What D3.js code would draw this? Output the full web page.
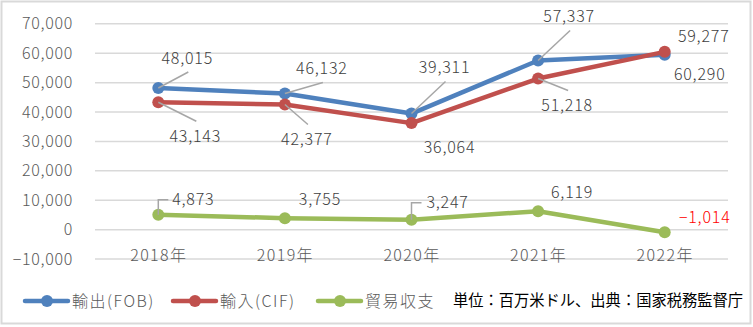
<!DOCTYPE html>
<html><head><meta charset="utf-8">
<script src="https://cdn.jsdelivr.net/npm/d3@7"></script>
<style>
html,body{margin:0;padding:0;background:#fff;}
svg text{font-family:"Noto Sans CJK JP","Noto Sans",sans-serif;font-weight:300;}
</style></head>
<body><svg id="c" width="753" height="327"></svg>
<script>
// ---- data ----
const categories = ["2018年","2019年","2020年","2021年","2022年"];
const exportsFOB = [48015, 46132, 39311, 57337, 59277];
const importsCIF = [43143, 42377, 36064, 51218, 60290];
const tradeBalance = [4873, 3755, 3247, 6119, -1014];
const yTicks = [-10000, 0, 10000, 20000, 30000, 40000, 50000, 60000, 70000];
const seriesNames = ["輸出(FOB)", "輸入(CIF)", "貿易収支"];
const noteText = "単位：百万米ドル、出典：国家税務監督庁";

// ---- layout / style config ----
const colors = ["#4F81BD", "#C0504D", "#9BBB59"];
const labelCfg = [
  {dx:[29,37,33,31,39], dy:[-30,-25,-46,-44,-18], leader:["line","line","line","line",null]},
  {dx:[37,22,38,29,35], dy:[34,35,24,27,23], leader:["line","line",null,"line",null]},
  {dx:[35,35,36,34,40], dy:[-15,-19,-17,-19,-15], leader:["elbow",null,"elbow",null,null]}
];

const svg = d3.select("#c");
svg.append("rect").attr("x",1.5).attr("y",1.5).attr("width",749).attr("height",322)
  .attr("fill","#fff").attr("stroke","#D9D9D9").attr("stroke-width",2);

const x = d3.scalePoint().domain(categories).range([95, 728]).padding(0.5);
const y = d3.scaleLinear().domain([-10000, 70000]).range([258.6, 23.3]);

const yAxis = d3.axisLeft(y).tickValues(yTicks).tickFormat(d3.format(",")).tickSize(-(728-95)).tickPadding(22);
const gy = svg.append("g").attr("transform","translate(95,0)").call(yAxis);
gy.select(".domain").remove();
gy.selectAll(".tick line").attr("stroke","#D9D9D9").attr("stroke-width",1.5);
gy.selectAll(".tick text").attr("fill","#595959").attr("font-size",16).attr("letter-spacing",0.7).attr("dy","0.35em");

const xAxis = d3.axisBottom(x).tickSize(0).tickPadding(0);
const gx = svg.append("g").attr("transform","translate(0,"+ (y(0)+26) +")").call(xAxis);
gx.select(".domain").remove();
gx.selectAll(".tick text").attr("fill","#595959").attr("font-size",16).attr("letter-spacing",1.4).attr("dy","0.35em");

const allSeries = [exportsFOB, importsCIF, tradeBalance];
const line = d3.line().x((d,i)=>x(categories[i])).y(d=>y(d));

allSeries.forEach((vals, si) => {
  const g = svg.append("g");
  g.append("path").datum(vals).attr("d", line).attr("fill","none")
    .attr("stroke", colors[si]).attr("stroke-width",4.5).attr("stroke-linejoin","round").attr("stroke-linecap","round");
  g.selectAll("circle").data(vals).join("circle")
    .attr("cx",(d,i)=>x(categories[i])).attr("cy",d=>y(d)).attr("r",6).attr("fill",colors[si]);
});

allSeries.forEach((vals, si) => {
  const cfg = labelCfg[si];
  vals.forEach((v, i) => {
    const px = x(categories[i]), py = y(v);
    const tx = px + cfg.dx[i], ty = py + cfg.dy[i];
    svg.append("text").attr("x",tx).attr("y",ty).attr("text-anchor","middle")
      .attr("dy","0.35em").attr("font-size",16).attr("letter-spacing",0.8)
      .attr("fill", v < 0 ? "#FF0000" : "#404040").text(d3.format(",")(v));
    if (cfg.leader[i] === "line") {
      const ey = cfg.dy[i] < 0 ? ty + 14 : ty - 15;
      const lx = tx + (si < 2 ? 1 : 0);
      svg.append("line").attr("x1",px).attr("y1",py).attr("x2",lx).attr("y2",ey)
        .attr("stroke","#A6A6A6").attr("stroke-width",1.5);
    } else if (cfg.leader[i] === "elbow") {
      svg.append("path").attr("d", `M${px},${py} V${ty} H${px+10}`)
        .attr("fill","none").attr("stroke","#A6A6A6").attr("stroke-width",1.5);
    }
  });
});

const legendX = [25, 173, 318];
const legendY = 301;
seriesNames.forEach((name, si) => {
  const lx = legendX[si];
  svg.append("line").attr("x1",lx).attr("x2",lx+43).attr("y1",legendY).attr("y2",legendY)
    .attr("stroke",colors[si]).attr("stroke-width",4.5).attr("stroke-linecap","round");
  svg.append("circle").attr("cx",lx+22).attr("cy",legendY).attr("r",6).attr("fill",colors[si]);
  svg.append("text").attr("x",lx+47).attr("y",legendY).attr("dy","0.35em")
    .attr("font-size",16).attr("letter-spacing",1.5).attr("fill","#595959").text(name);
});
svg.append("text").attr("x",453).attr("y",legendY).attr("dy","0.35em")
  .attr("font-size",15.5).attr("font-weight",400).style("font-weight",400).attr("fill","#000")
  .attr("textLength",290).attr("lengthAdjust","spacingAndGlyphs")
  .text(noteText);
</script></body></html>
